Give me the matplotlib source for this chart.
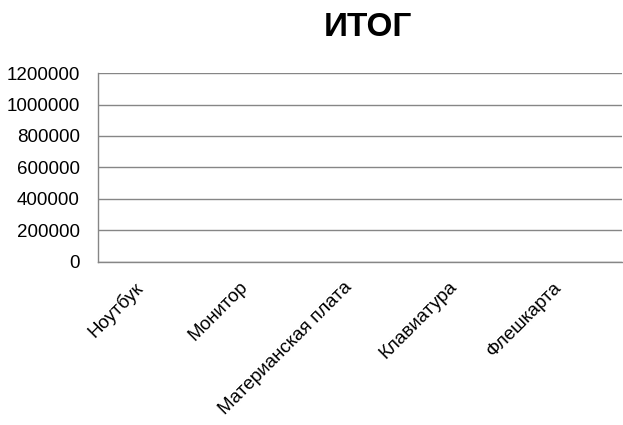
import matplotlib.pyplot as plt
import matplotlib.transforms as mtransforms
import numpy as np

# данные (в исходной диаграмме столбцы пустые)
categories = ['Ноутбук', 'Монитор', 'Материанская плата', 'Клавиатура', 'Флешкарта']
totals = [0, 0, 0, 0, 0]
yticks = [0, 200000, 400000, 600000, 800000, 1000000, 1200000]

plt.rcParams['font.family'] = ['Liberation Sans', 'DejaVu Sans']

fig = plt.figure(figsize=(6.23, 4.25), dpi=100)
ax = fig.add_axes([0.157, 0.384, 0.841, 0.444])

x = np.arange(len(categories))
ax.bar(x, totals, width=0.6, color='#4F81BD')

ax.set_xlim(-0.5, len(categories) - 0.5)
ax.set_ylim(0, 1200000)
ax.set_yticks(yticks)
ax.set_yticklabels([str(v) for v in yticks], fontsize=13.5)
ax.set_xticks(x)
ax.set_xticklabels(categories, fontsize=13.5, rotation=45, ha='right',
                   rotation_mode='anchor')
ax.tick_params(axis='y', length=0, pad=13)
ax.tick_params(axis='x', length=0, pad=12)

# сдвиг подписей категорий влево
offset = mtransforms.ScaledTranslation(-16 / 100, 0, fig.dpi_scale_trans)
for lab in ax.get_xticklabels():
    lab.set_transform(lab.get_transform() + offset)

ax.grid(axis='y', color='#868686', linewidth=1)
ax.set_axisbelow(True)
for s in ['top', 'right']:
    ax.spines[s].set_visible(False)
for s in ['left', 'bottom']:
    ax.spines[s].set_color('#868686')
    ax.spines[s].set_linewidth(1)

fig.text(0.59, 0.935, 'ИТОГ', fontsize=24, fontweight='bold',
         ha='center', va='center')

fig.savefig('out.png', dpi=100, facecolor='white')
